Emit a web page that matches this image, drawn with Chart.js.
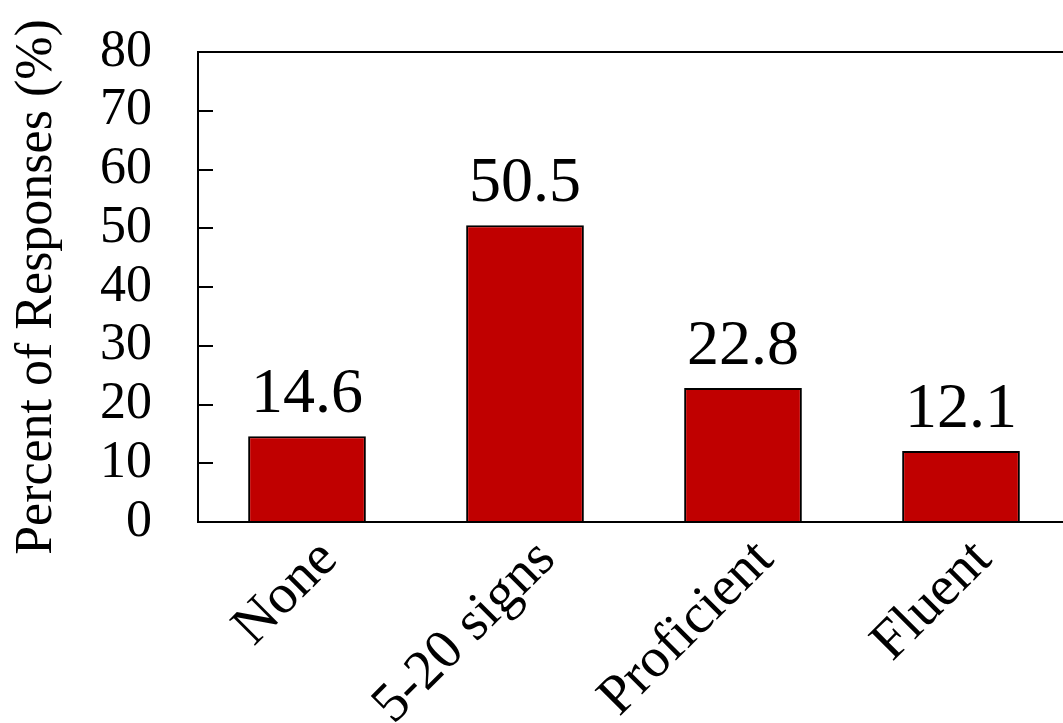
<!DOCTYPE html>
<html>
<head>
<meta charset="utf-8">
<script src="https://cdn.jsdelivr.net/npm/chart.js@4"></script>
<style>
  html, body { margin: 0; padding: 0; background: #fff; overflow: hidden; }
  #wrap { width: 1080px; height: 723px; }
</style>
</head>
<body>
<div id="wrap"><canvas id="c" width="1080" height="723"></canvas></div>
<script>
// Sign-language familiarity survey
const categories = ['None', '5-20 signs', 'Proficient', 'Fluent'];
const percentValues = [14.6, 50.5, 22.8, 12.1];
const yTickValues = [0, 10, 20, 30, 40, 50, 60, 70, 80];

const FONT = '"Liberation Serif", "Times New Roman", serif';

// Frame (left, bottom, top) and inward tick marks on the value axis
const framePlugin = {
  id: 'frame',
  afterDatasetsDraw(chart) {
    const { ctx, chartArea: a, scales: { y } } = chart;
    ctx.save();
    ctx.strokeStyle = '#000';
    ctx.lineWidth = 2;
    ctx.beginPath();
    ctx.moveTo(a.right + 20, a.top);
    ctx.lineTo(a.left, a.top);
    ctx.lineTo(a.left, a.bottom);
    ctx.lineTo(a.right + 20, a.bottom);
    ctx.stroke();
    ctx.beginPath();
    y.ticks.forEach(t => {
      const py = Math.round(y.getPixelForValue(t.value));
      ctx.moveTo(a.left, py);
      ctx.lineTo(a.left + 15, py);
    });
    ctx.stroke();
    ctx.restore();
  }
};

// Value printed above each bar
const valueLabelPlugin = {
  id: 'valueLabels',
  afterDatasetsDraw(chart) {
    const { ctx } = chart;
    const meta = chart.getDatasetMeta(0);
    ctx.save();
    ctx.font = '64px ' + FONT;
    ctx.fillStyle = '#000';
    ctx.textAlign = 'center';
    ctx.textBaseline = 'alphabetic';
    meta.data.forEach((bar, i) => {
      ctx.fillText(percentValues[i].toFixed(1), bar.x, bar.y - 24);
    });
    ctx.restore();
  }
};

new Chart(document.getElementById('c'), {
  type: 'bar',
  data: {
    labels: categories,
    datasets: [{
      data: percentValues,
      backgroundColor: '#C00000',
      borderColor: '#000',
      borderWidth: 2,
      barPercentage: 0.54,
      categoryPercentage: 1.0
    }]
  },
  options: {
    responsive: false,
    animation: false,
    devicePixelRatio: 1,
    layout: { padding: { top: 52, right: 10, left: 0, bottom: 0 } },
    plugins: { legend: { display: false }, tooltip: { enabled: false } },
    scales: {
      x: {
        grid: { display: false, drawTicks: false },
        border: { display: false },
        ticks: {
          color: '#000',
          font: { family: FONT, size: 56 },
          minRotation: 45,
          maxRotation: 45,
          labelOffset: 22,
          padding: 5
        },
        afterFit(scale) { scale.height = 201; }
      },
      y: {
        min: 0,
        max: 80,
        afterBuildTicks(scale) { scale.ticks = yTickValues.map(v => ({ value: v })); },
        grid: { display: false, drawTicks: true, tickLength: 43 },
        border: { display: false },
        ticks: {
          color: '#000',
          font: { family: FONT, size: 52 },
          autoSkip: false,
          padding: 3
        },
        title: {
          display: true,
          text: 'Percent of Responses (%)',
          color: '#000',
          font: { family: FONT, size: 52 },
          padding: { top: 6, bottom: 0 }
        },
        afterFit(scale) { scale.width = 198; }
      }
    }
  },
  plugins: [framePlugin, valueLabelPlugin]
});
</script>
</body>
</html>
